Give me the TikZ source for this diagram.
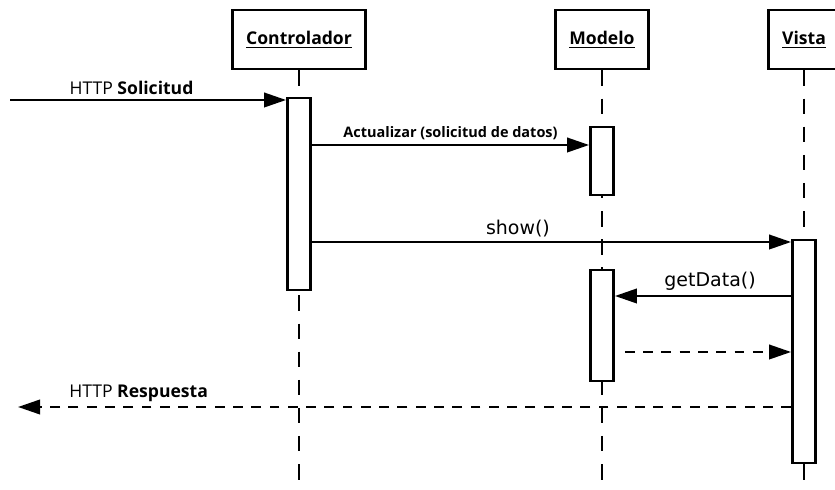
\documentclass[tikz,border=0pt]{standalone}
\usepackage{fontspec}
\setmainfont{Open Sans}
\newfontfamily\metodofont{DejaVu Sans}
\usetikzlibrary{arrows.meta}
\tikzset{
  every node/.style={font=\fontsize{12.5}{14}\selectfont},
  objeto/.style={
    rectangle,
    draw=black,
    line width=2.1pt,
    minimum height=1.475cm,
    inner xsep=0.35cm,
    font=\bfseries\fontsize{12.5}{14}\selectfont,
    fill=white
  },
  activacion/.style={
    rectangle,
    draw=black,
    line width=2.0pt,
    minimum width=0.575cm,
    inner sep=0pt,
    fill=white
  },
  lifeline/.style={draw=black,line width=1.1pt,dash pattern=on 11pt off 9pt},
  mensaje/.style={draw=black,line width=1.8pt,-{Triangle[length=0.55cm,width=0.36cm]}},
  respuesta/.style={mensaje,dash pattern=on 7pt off 6pt},
  etiqueta/.style={above,inner sep=3pt}
}

\begin{document}
\begin{tikzpicture}
  \useasboundingbox (0,0) rectangle (20.875,12.25);

  % Objetos participantes.
  \node[objeto] (controlador) at (7.475,11.2625) {\underline{Controlador}};
  \node[objeto] (modelo) at (15.05,11.2625) {\underline{Modelo}};
  \node[objeto] (vista) at (20.1,11.2625) {\underline{Vista}};

  % Lineas de vida.
  \foreach \obj in {controlador,modelo,vista}
    \draw[lifeline] (\obj.south) -- (\obj.south |- 0,0);

  % Barras de activacion.
  \node[activacion,minimum height=4.8cm] (ctrlact) at (7.475,7.4) {};
  \node[activacion,minimum height=1.7cm] (modact) at (15.05,8.225) {};
  \node[activacion,minimum height=5.575cm] (vistaact) at (20.1,3.4625) {};
  \node[activacion,minimum height=2.775cm] (modactb) at (15.05,4.1125) {};

  % Extremos libres de los mensajes HTTP.
  \coordinate (cliente-in) at (0.25,9.75);
  \coordinate (cliente-out) at (0.45,2.075);

  % Mensajes.
  \draw[mensaje] (cliente-in) -- node[etiqueta,pos=0.44]
    {HTTP \textbf{Solicitud}} (ctrlact.west |- cliente-in);
  \draw[mensaje] (ctrlact.east |- 0,8.625) -- node[etiqueta,font=\bfseries\fontsize{10.3}{12}\selectfont]
    {Actualizar (solicitud de datos)} (modact.west |- 0,8.625);
  \draw[mensaje] (ctrlact.east |- 0,6.2) -- node[etiqueta,pos=0.43,font=\metodofont\fontsize{13.5}{15}\selectfont]
    {show()} (vistaact.west |- 0,6.2);
  \draw[mensaje] (vistaact.west |- 0,4.85) -- node[etiqueta,pos=0.46,font=\metodofont\fontsize{13.5}{15}\selectfont]
    {getData()} (modactb.east |- 0,4.85);
  \draw[respuesta] ([xshift=0.25cm]modactb.east |- 0,3.45) -- (vistaact.west |- 0,3.45);
  \draw[respuesta] (vistaact.west |- cliente-out) -- node[etiqueta,pos=0.844]
    {HTTP \textbf{Respuesta}} (cliente-out);
\end{tikzpicture}
\end{document}
